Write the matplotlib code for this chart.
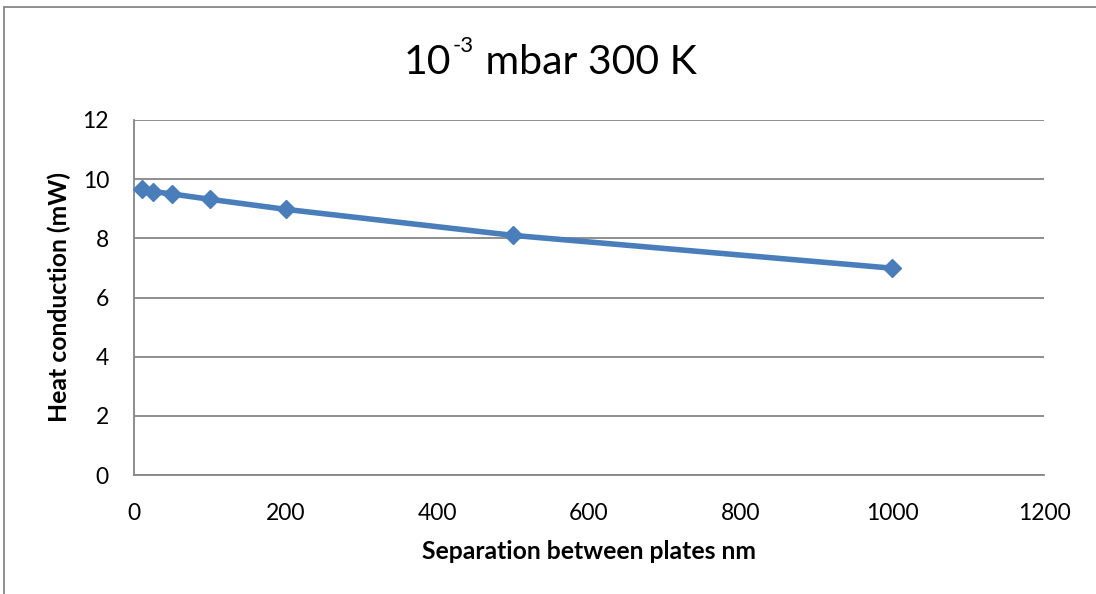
import matplotlib
matplotlib.use("Agg")
import matplotlib.pyplot as plt
from matplotlib.patches import Rectangle

separation_nm = [10, 25, 50, 100, 200, 500, 1000]
heat_mw = [9.66, 9.58, 9.50, 9.32, 8.98, 8.10, 6.99]
x_ticks = [0, 200, 400, 600, 800, 1000, 1200]
y_ticks = [0, 2, 4, 6, 8, 10, 12]

FONT = "Lato"
plt.rcParams['font.family'] = [FONT, 'DejaVu Sans']

W, H = 1096, 594
fig = plt.figure(figsize=(W / 100, H / 100), dpi=100)

# outer chart border
fig.patches.append(Rectangle((4 / W, -0.1), 1.2, 1 - 7 / H + 0.1,
                             transform=fig.transFigure, fill=False,
                             edgecolor='#868686', linewidth=1.3))

ax = fig.add_axes([134 / W, 1 - 475 / H, (1044 - 134) / W, (475 - 120) / H])
ax.plot(separation_nm, heat_mw, color='#4A7EBB', linewidth=4,
        marker='D', markersize=9, markerfacecolor='#4A7EBB',
        markeredgecolor='#4A7EBB', markeredgewidth=1, zorder=3, clip_on=False)
ax.set_xlim(0, 1200)
ax.set_ylim(0, 12)
ax.set_xticks(x_ticks)
ax.set_yticks(y_ticks)
ax.tick_params(length=0, labelsize=16.5, colors='black')
ax.tick_params(axis='x', pad=20)
ax.tick_params(axis='y', pad=18)
ax.yaxis.grid(True, color='#868686', linewidth=1.3)
ax.set_axisbelow(True)
for s in ['top', 'right']:
    ax.spines[s].set_visible(False)
for s in ['left', 'bottom']:
    ax.spines[s].set_color('#868686')
    ax.spines[s].set_linewidth(1.3)

ax.set_xlabel('Separation between plates nm', fontsize=17.8, fontweight='bold', labelpad=12)
ax.set_ylabel('Heat conduction (mW)', fontsize=17.8, fontweight='bold', labelpad=8)

# title with superscript, placed piecewise in pixel coordinates
renderer = fig.canvas.get_renderer()
base_y = 74
t1 = fig.text(404 / W, 1 - base_y / H, '10', fontsize=29.5, va='baseline', ha='left')
x1 = t1.get_window_extent(renderer).x1
t2 = fig.text((x1 + 1) / W, 1 - (base_y - 22) / H, '-3', fontsize=16, va='baseline', ha='left')
x2 = t2.get_window_extent(renderer).x1
t3 = fig.text((x2 + 1) / W, 1 - base_y / H, ' mbar 300 K', fontsize=29.5, va='baseline', ha='left')

fig.savefig('out.png', dpi=100)
